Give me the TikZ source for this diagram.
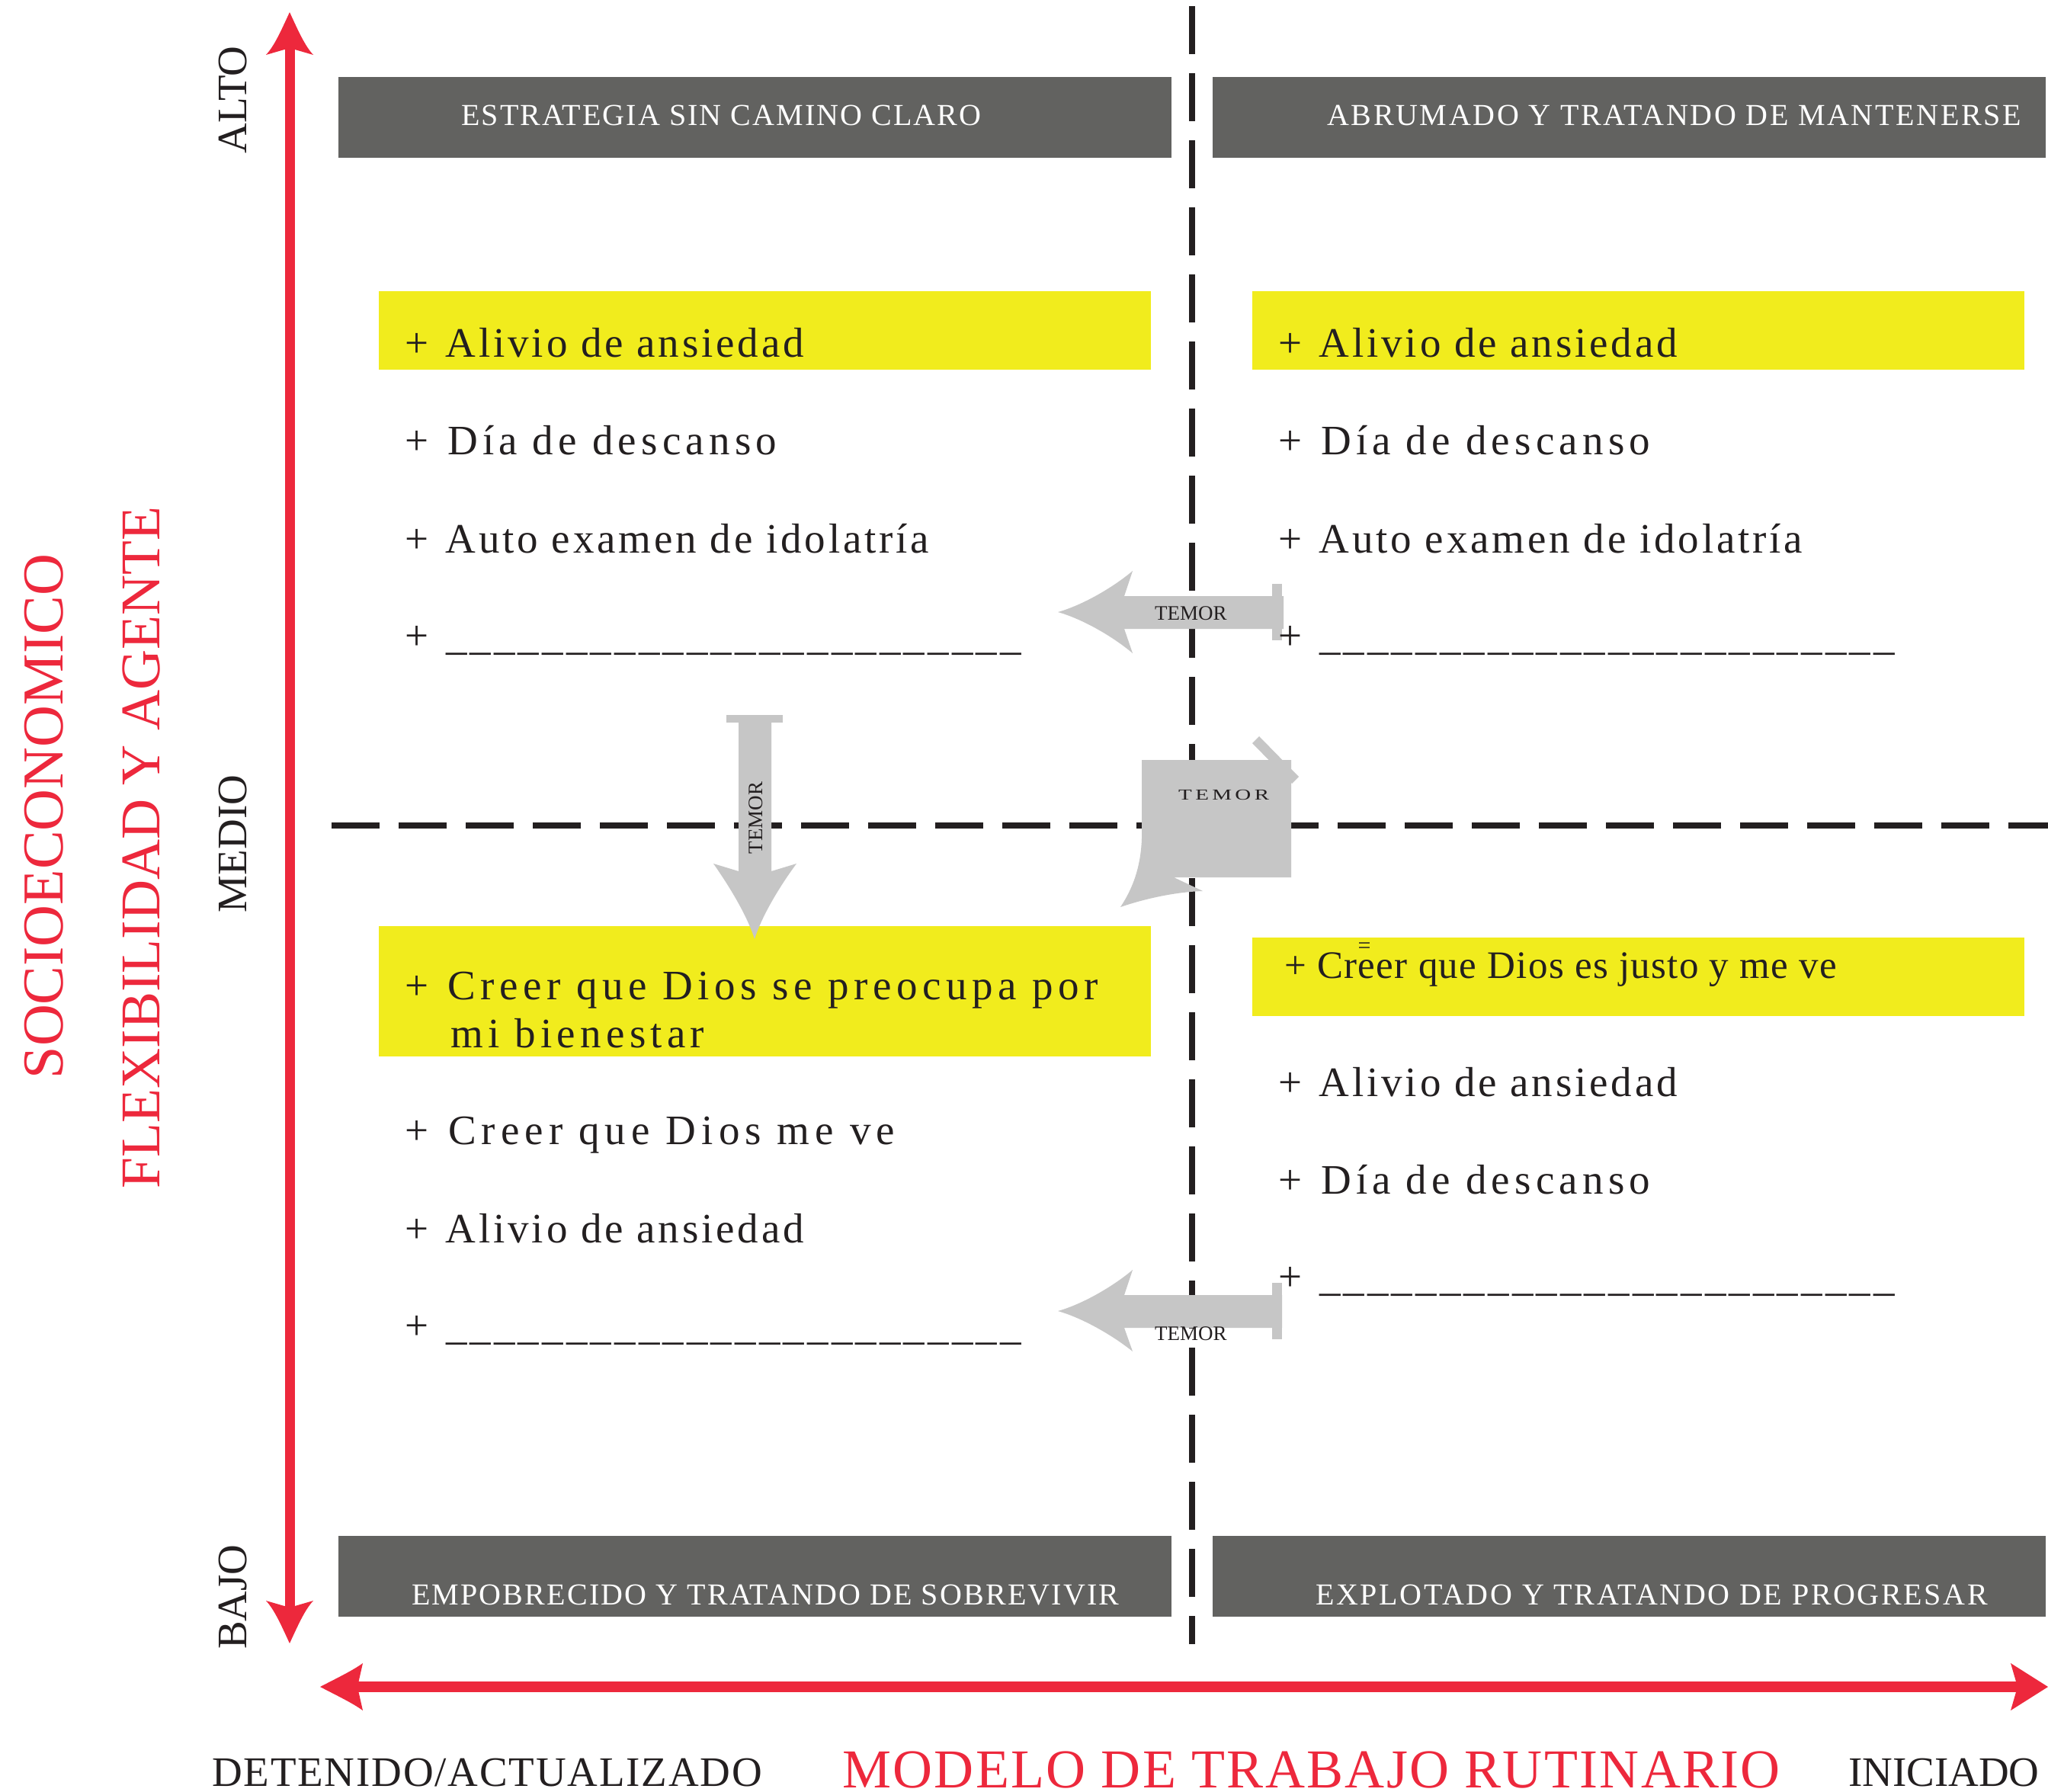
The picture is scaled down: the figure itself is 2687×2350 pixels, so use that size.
\documentclass[tikz,border=0pt]{standalone}
\usepackage{fontspec}
\setmainfont{Liberation Serif}
\usepackage{graphicx}
\definecolor{axred}{RGB}{237,40,60}
\definecolor{hdrgray}{RGB}{98,98,96}
\definecolor{hiyel}{RGB}{241,236,29}
\definecolor{temorgray}{RGB}{198,198,198}
\definecolor{ink}{RGB}{35,31,32}
\newcommand\plusgap{+\ \kern5pt}
\tikzset{
  item/.style={anchor=base west, inner sep=0pt, text=ink, font=\fontsize{55}{60}\selectfont},
  hdrtxt/.style={anchor=base west, inner sep=0pt, text=white, font=\fontsize{40}{44}\selectfont},
  axlbl/.style={anchor=base, inner sep=0pt, text=ink, rotate=90, font=\fontsize{55}{60}\selectfont},
  redlbl/.style={anchor=base, inner sep=0pt, text=axred, rotate=90},
  botlbl/.style={anchor=base west, inner sep=0pt, text=ink, font=\fontsize{55}{60}\selectfont},
  temortxt/.style={anchor=base west, inner sep=0pt, text=ink, font=\fontsize{27}{30}\selectfont},
  dashline/.style={draw=ink, line width=8pt, dash pattern=on 63pt off 25pt},
  hdrbox/.style={fill=hdrgray},
  yelbox/.style={fill=hiyel},
  temorshape/.style={fill=temorgray},
  redshaft/.style={draw=axred, line width=13pt},
}
\begin{document}
\begin{tikzpicture}[x=1pt,y=-1pt]
\useasboundingbox (0,0) rectangle (2687,2350);
\fill[white] (0,0) rectangle (2687,2350);

% dashed quadrant lines
\coordinate (vtop) at (1564,8);
\coordinate (vbot) at (1564,2157);
\coordinate (hleft) at (435,1083);
\coordinate (hright) at (2687,1083);
\draw[dashline] (vtop) -- (vbot);
\draw[dashline] (hleft) -- (hright);

% header boxes
\fill[hdrbox] (444,101) rectangle (1537,207);
\fill[hdrbox] (1591,101) rectangle (2684,207);
\fill[hdrbox] (444,2015) rectangle (1537,2121);
\fill[hdrbox] (1591,2015) rectangle (2684,2121);
\node[hdrtxt] (h1) at (605,164) {\addfontfeature{LetterSpace=5.2}ESTRATEGIA SIN CAMINO CLARO};
\node[hdrtxt] (h2) at (1741,164) {\addfontfeature{LetterSpace=6.6}ABRUMADO Y TRATANDO DE MANTENERSE};
\node[hdrtxt] (h3) at (540,2105) {\addfontfeature{LetterSpace=5.4}EMPOBRECIDO Y TRATANDO DE SOBREVIVIR};
\node[hdrtxt] (h4) at (1726,2105) {\addfontfeature{LetterSpace=6.7}EXPLOTADO Y TRATANDO DE PROGRESAR};

% yellow highlight boxes
\fill[yelbox] (497,382) rectangle (1510,485);
\fill[yelbox] (1643,382) rectangle (2656,485);
\fill[yelbox] (497,1215) rectangle (1510,1386);
\fill[yelbox] (1643,1230) rectangle (2656,1333);

% TEMOR arrows
\fill[temorshape] (1684,782) -- (1684,825) -- (1475,825) -- (1486,857)
  .. controls (1460,835) and (1420,812) .. (1388,803)
  .. controls (1420,794) and (1460,771) .. (1486,749) -- (1475,782) -- cycle;
\fill[temorshape] (1669,766) rectangle (1682,840);
\fill[temorshape] (1682,1699) -- (1682,1742) -- (1475,1742) -- (1486,1773)
  .. controls (1460,1752) and (1420,1729) .. (1388,1720)
  .. controls (1420,1711) and (1460,1688) .. (1486,1666) -- (1475,1699) -- cycle;
\fill[temorshape] (1669,1683) rectangle (1682,1757);
\fill[temorshape] (953,938) rectangle (1027,948);
\fill[temorshape] (969,945) -- (1012,945) -- (1012,1143) -- (1045,1133)
  .. controls (1025,1160) and (1000,1200) .. (990,1232)
  .. controls (980,1200) and (955,1160) .. (936,1133) -- (969,1143) -- cycle;
% callout
\fill[temorshape] (1643,975) -- (1652,966) -- (1704,1019) -- (1695,1028) -- cycle;
\fill[temorshape] (1498,997) -- (1694,997) -- (1694,1151) -- (1540,1151) -- (1578,1169)
  .. controls (1545,1170) and (1505,1178) .. (1470,1190)
  .. controls (1490,1160) and (1497,1130) .. (1498,1100) -- cycle;

\node[temortxt] (t1) at (1515,813) {TEMOR};
\node[temortxt] (t2) at (1515,1758) {TEMOR};
\node[temortxt, anchor=base, rotate=90] (t3) at (1000,1073) {TEMOR};
\node[anchor=base west, inner sep=0pt, text=ink] (t4) at (1546,1049)
  {\scalebox{1.45}[1]{\fontsize{20}{22}\selectfont\addfontfeature{LetterSpace=15}TEMOR}};

% list items top-left
\node[item] (a1) at (531,468) {\addfontfeature{LetterSpace=7}\plusgap Alivio de ansiedad};
\node[item] (a2) at (531,596) {\addfontfeature{LetterSpace=11.3}\plusgap Día de descanso};
\node[item] (a3) at (531,725) {\addfontfeature{LetterSpace=7}\plusgap Auto examen de idolatría};
\node[item] (a4) at (531,852) {\addfontfeature{LetterSpace=7.5}\plusgap\_\_\_\_\_\_\_\_\_\_\_\_\_\_\_\_\_\_\_\_\_\_\_\_};
% top-right
\node[item] (b1) at (1677,468) {\addfontfeature{LetterSpace=7}\plusgap Alivio de ansiedad};
\node[item] (b2) at (1677,596) {\addfontfeature{LetterSpace=11.3}\plusgap Día de descanso};
\node[item] (b3) at (1677,725) {\addfontfeature{LetterSpace=7}\plusgap Auto examen de idolatría};
\node[item] (b4) at (1677,852) {\addfontfeature{LetterSpace=7.5}\plusgap\_\_\_\_\_\_\_\_\_\_\_\_\_\_\_\_\_\_\_\_\_\_\_\_};
% bottom-left
\node[item] (c1) at (531,1311) {\addfontfeature{LetterSpace=12}\plusgap Creer que Dios se preocupa por};
\node[item] (c1b) at (591,1374) {\addfontfeature{LetterSpace=11.4}mi bienestar};
\node[item] (c2) at (531,1501) {\addfontfeature{LetterSpace=12.9}\plusgap Creer que Dios me ve};
\node[item] (c3) at (531,1630) {\addfontfeature{LetterSpace=7}\plusgap Alivio de ansiedad};
\node[item] (c4) at (531,1757) {\addfontfeature{LetterSpace=7.5}\plusgap\_\_\_\_\_\_\_\_\_\_\_\_\_\_\_\_\_\_\_\_\_\_\_\_};
% bottom-right
\node[item, font=\fontsize{51}{56}\selectfont] (d1) at (1685,1283) {\addfontfeature{LetterSpace=2.7}+ Creer que Dios es justo y me ve};
\node[inner sep=0pt, text=ink, font=\fontsize{30}{32}\selectfont] (d1m) at (1790,1244) {=};
\node[item] (d2) at (1677,1438) {\addfontfeature{LetterSpace=7}\plusgap Alivio de ansiedad};
\node[item] (d3) at (1677,1566) {\addfontfeature{LetterSpace=11.3}\plusgap Día de descanso};
\node[item] (d4) at (1677,1693) {\addfontfeature{LetterSpace=7.5}\plusgap\_\_\_\_\_\_\_\_\_\_\_\_\_\_\_\_\_\_\_\_\_\_\_\_};

% red axes
\coordinate (ytop) at (380,60);
\coordinate (ybot) at (380,2112);
\draw[redshaft] (ytop) -- (ybot);
\fill[axred] (380,16) .. controls (392,42) and (400,60) .. (411,72) -- (380,63) -- (349,72)
  .. controls (360,60) and (368,42) .. (380,16) -- cycle;
\fill[axred] (380,2156) .. controls (392,2130) and (400,2112) .. (411,2100) -- (380,2109) -- (349,2100)
  .. controls (360,2112) and (368,2130) .. (380,2156) -- cycle;
\coordinate (xleft) at (465,2213);
\coordinate (xright) at (2650,2213);
\draw[redshaft, line width=14pt] (xleft) -- (xright);
\fill[axred] (420,2213) .. controls (445,2200) and (462,2192) .. (476,2182) -- (469,2213) -- (476,2244)
  .. controls (462,2234) and (445,2226) .. (420,2213) -- cycle;
\fill[axred] (2687,2213) -- (2638,2182) -- (2647,2213) -- (2638,2244) -- cycle;

% axis labels
\node[axlbl] (alto) at (323,131) {ALTO};
\node[axlbl] (medio) at (323,1107) {MEDIO};
\node[axlbl] (bajo) at (323,2095) {BAJO};
\node[redlbl, font=\fontsize{76}{80}\selectfont] (socio) at (82,1071) {SOCIOECONOMICO};
\node[redlbl, font=\fontsize{73.5}{78}\selectfont] (flex) at (209,1112) {FLEXIBILIDAD Y AGENTE};

\node[botlbl] (det) at (278,2343) {\addfontfeature{LetterSpace=3.3}DETENIDO/ACTUALIZADO};
\node[botlbl, text=axred, font=\fontsize{72}{78}\selectfont] (modelo) at (1105,2345) {\addfontfeature{LetterSpace=3.2}MODELO DE TRABAJO RUTINARIO};
\node[botlbl] (ini) at (2425,2343) {INICIADO};
\end{tikzpicture}
\end{document}
